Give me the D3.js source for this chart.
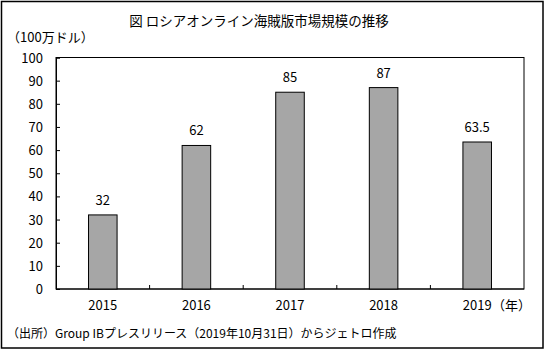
<!DOCTYPE html>
<html>
<head>
<meta charset="utf-8">
<script src="https://cdn.jsdelivr.net/npm/d3@7"></script>
<style>
  body { margin: 0; background: #fff; }
  svg text { font-family: "Noto Sans CJK JP", "DejaVu Sans", sans-serif; fill: #000; }
</style>
</head>
<body>
<svg id="chart" width="547" height="353"></svg>
<script>
// chart data
const years = ["2015", "2016", "2017", "2018", "2019"];
const values = [32, 62, 85, 87, 63.5];
const valueLabels = ["32", "62", "85", "87", "63.5"];
const yTicks = [0, 10, 20, 30, 40, 50, 60, 70, 80, 90, 100];

const svg = d3.select("#chart");

// outer frame
svg.append("rect")
  .attr("x", 1.5).attr("y", 1.5)
  .attr("width", 541.5).attr("height", 346.5)
  .attr("fill", "#fff")
  .attr("stroke", "#000")
  .attr("stroke-width", 1.5);

const margin = { top: 57.5, right: 23, bottom: 64, left: 56 };
const width = 547 - margin.left - margin.right;
const height = 353 - margin.top - margin.bottom;

const g = svg.append("g").attr("transform", `translate(${margin.left},${margin.top})`);

const x = d3.scaleBand()
  .domain(years)
  .range([0, width])
  .paddingInner(0.695)
  .paddingOuter(0.3475);

const y = d3.scaleLinear()
  .domain([0, 100])
  .range([height, 0]);

// plot box (top and right)
g.append("rect")
  .attr("x", 0).attr("y", 0)
  .attr("width", width).attr("height", height)
  .attr("fill", "none")
  .attr("stroke", "#000")
  .attr("stroke-width", 1);

// y axis, ticks pointing inward
const yAxis = g.append("g")
  .call(d3.axisLeft(y).tickValues(yTicks).tickSize(-4).tickPadding(13));
yAxis.select(".domain").attr("stroke", "#000");
yAxis.selectAll("text")
  .style("font-size", "13px")
  .style("font-family", "'Noto Sans CJK JP', sans-serif")
  .attr("dy", "0.35em");

// x axis baseline
g.append("line")
  .attr("x1", 0).attr("x2", width)
  .attr("y1", height).attr("y2", height)
  .attr("stroke", "#000");

// x ticks between categories, pointing up
const step = x.step();
g.selectAll(".xtick")
  .data(years.slice(1))
  .enter()
  .append("line")
  .attr("class", "xtick")
  .attr("x1", d => x(d) - (step - x.bandwidth()) / 2)
  .attr("x2", d => x(d) - (step - x.bandwidth()) / 2)
  .attr("y1", height)
  .attr("y2", height - 4)
  .attr("stroke", "#000");

// x labels
g.selectAll(".xlabel")
  .data(years)
  .enter()
  .append("text")
  .attr("class", "xlabel")
  .attr("x", d => x(d) + x.bandwidth() / 2)
  .attr("y", height + 21)
  .attr("text-anchor", "middle")
  .style("font-size", "13px")
  .text(d => d);

// bars
g.selectAll(".bar")
  .data(values)
  .enter()
  .append("rect")
  .attr("class", "bar")
  .attr("x", (d, i) => x(years[i]))
  .attr("y", d => y(d))
  .attr("width", x.bandwidth())
  .attr("height", d => height - y(d))
  .attr("fill", "#a6a6a6")
  .attr("stroke", "#000")
  .attr("stroke-width", 1);

// value labels
g.selectAll(".vlabel")
  .data(values)
  .enter()
  .append("text")
  .attr("class", "vlabel")
  .attr("x", (d, i) => x(years[i]) + x.bandwidth() / 2)
  .attr("y", d => y(d) - 10)
  .attr("text-anchor", "middle")
  .style("font-size", "13px")
  .text((d, i) => valueLabels[i]);

// title and notes
svg.append("text")
  .attr("x", 259)
  .attr("y", 26)
  .attr("text-anchor", "middle")
  .style("font-size", "13.5px")
  .text("図 ロシアオンライン海賊版市場規模の推移");

svg.append("text")
  .attr("x", 7)
  .attr("y", 42)
  .style("font-size", "13px")
  .text("（100万ドル）");

svg.append("text")
  .attr("x", 492)
  .attr("y", height + margin.top + 21)
  .style("font-size", "13px")
  .text("（年）");

svg.append("text")
  .attr("x", 7)
  .attr("y", 338)
  .style("font-size", "12px")
  .text("（出所）Group IBプレスリリース（2019年10月31日）からジェトロ作成");
</script>
</body>
</html>
